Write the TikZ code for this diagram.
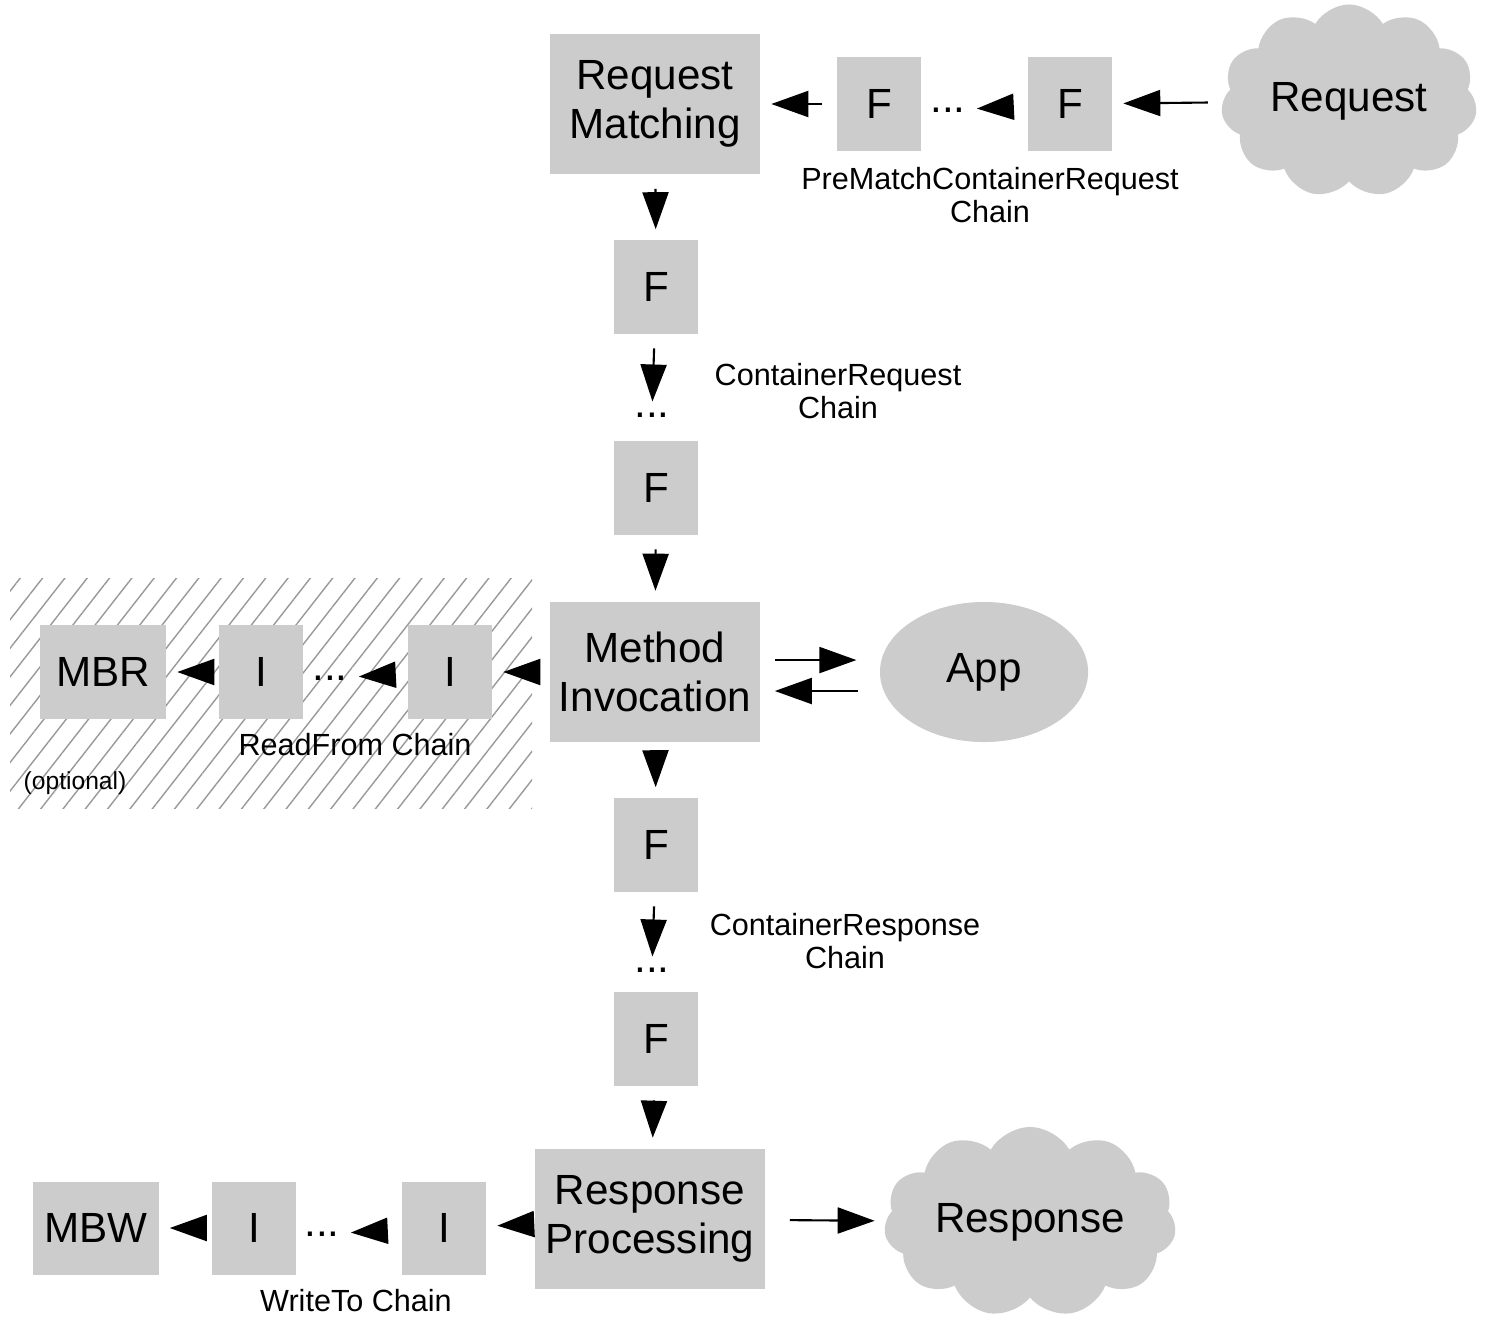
\documentclass[tikz,border=0pt]{standalone}
\usepackage{fontspec}
\setmainfont{Liberation Sans}
\usetikzlibrary{arrows.meta}
\usetikzlibrary{shapes,shapes.symbols}
\usetikzlibrary{patterns.meta}
\usetikzlibrary{calc}
\tikzstyle{stage}=[fill=black!20,align=center,inner sep=0pt,font=\fontsize{12}{14}\selectfont,minimum width=2.1cm,minimum height=1.4cm]
\tikzstyle{filt}=[fill=black!20,inner sep=0pt,font=\fontsize{12}{14}\selectfont,minimum width=0.84cm,minimum height=0.93cm]
\tikzstyle{dots}=[inner sep=0pt,font=\fontsize{12}{14}\selectfont]
\tikzstyle{lbl}=[align=center,inner sep=0pt,font=\fontsize{8.7}{9.6}\selectfont]
\tikzstyle{flow}=[line width=0.6pt,-{Triangle[length=0.37cm,width=0.26cm]},shorten <=4pt,shorten >=3pt]

\begin{document}
\begin{tikzpicture}[x=0.01cm,y=-0.01cm]
\tikzstyle{puff}=[cloud,cloud ignores aspect,fill=black!20,cloud puffs=11,cloud puff arc=120,inner sep=0pt,font=\fontsize{12}{14}\selectfont]
\useasboundingbox (0,0) rectangle (1486,1318);
% optional part
\path[pattern={Lines[angle=52,distance=5pt,line width=0.4pt]},pattern color=black!40] (10,578) rectangle (532,808);
% request side
\node [stage] (rm) at (655,104) {Request\\Matching};
\node [filt] (pf1) at (879,104) {F};
\node [dots] (pd) at (948,110) {...};
\node [filt] (pf2) at (1070,104) {F};
\node [puff,minimum width=2.56cm,minimum height=1.93cm] (req) at (1349,101) {Request};
\node [lbl] (prelbl) at (990,195) {PreMatchContainerRequest\\Chain};
\node [filt] (cf1) at (656,287) {F};
\node [dots] (cd) at (652,415) {...};
\node [filt] (cf2) at (656,488) {F};
\node [lbl] (reqlbl) at (838,391) {ContainerRequest\\Chain};
% invocation
\node [stage] (mi) at (655,672) {Method\\Invocation};
\node [ellipse,fill=black!20,inner sep=0pt,minimum width=2.08cm,minimum height=1.4cm,font=\fontsize{12}{14}\selectfont] (app) at (984,672) {App};
\node [filt] (ri1) at (450,672) {I};
\node [dots] (rd) at (330,678) {...};
\node [filt] (ri2) at (261,672) {I};
\node [filt,minimum width=1.26cm] (mbr) at (103,672) {MBR};
\node [lbl] (rflbl) at (355,745) {ReadFrom Chain};
\node [inner sep=0pt,font=\fontsize{7}{8}\selectfont] (opt) at (75,783) {(optional)};
% response side
\node [filt] (sf1) at (656,845) {F};
\node [dots] (sd) at (652,970) {...};
\node [filt] (sf2) at (656,1039) {F};
\node [lbl] (resplbl) at (845,941) {ContainerResponse\\Chain};
\node [stage,minimum width=2.29cm] (rp) at (650,1219) {Response\\Processing};
\node [puff,minimum width=2.92cm,minimum height=1.9cm] (resp) at (1030,1222) {Response};
\node [filt] (wi1) at (444,1228) {I};
\node [dots] (wd) at (322,1234) {...};
\node [filt] (wi2) at (254,1228) {I};
\node [filt,minimum width=1.25cm] (mbw) at (96,1228) {MBW};
\node [lbl] (wtlbl) at (356,1301) {WriteTo Chain};
% arrows
\draw [flow] (req) -- (pf2);
\draw [flow] (pf2) -- (pd);
\draw [flow] (pf1) -- (rm);
\draw [flow] (rm) -- (cf1);
\draw [flow] (cf1) -- (cd);
\draw [flow] (cf2) -- (mi);
\draw [flow,shorten >=6.5pt] ([yshift=3.4pt]mi.east) -- ([yshift=3.4pt]app.west);
\draw [flow,shorten <=6pt,shorten >=4pt] ([yshift=-5.4pt]app.west) -- ([yshift=-5.4pt]mi.east);
\draw [flow] (mi) -- (ri1);
\draw [flow] (ri1) -- (rd);
\draw [flow] (ri2) -- (mbr);
\draw [flow] (mi) -- (sf1);
\draw [flow] (sf1) -- (sd);
\draw [flow] (sf2) -- (rp);
\draw [flow,shorten <=7pt] (rp) -- (resp);
\draw [flow] (rp) -- (wi1);
\draw [flow] (wi1) -- (wd);
\draw [flow] (wi2) -- (mbw);
\end{tikzpicture}
\end{document}
